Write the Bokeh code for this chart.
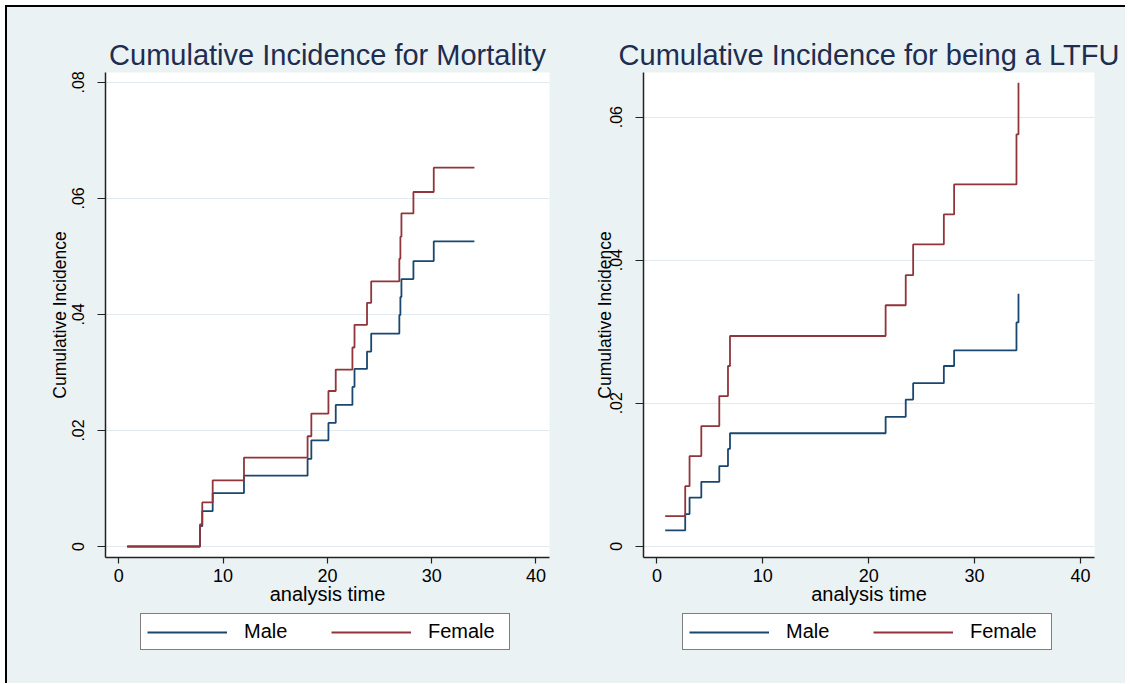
from bokeh.plotting import figure
from bokeh.models import FixedTicker, Legend, LegendItem, Range1d
from bokeh.layouts import row, column
from bokeh.embed import file_html
from bokeh.resources import INLINE

# ---------------- data ----------------
mort_time = [0.8, 7.78, 8.0, 9.0, 12.0, 18.1, 18.46, 20.1, 20.8, 22.4, 22.6,
             23.8, 24.2, 26.9, 27.0, 27.1, 28.25, 30.2, 34.1]
mort_male = [0.0, 0.0035, 0.0061, 0.0092, 0.0122, 0.0151, 0.0183, 0.0213, 0.0244,
             0.0275, 0.0306, 0.0336, 0.0367, 0.0399, 0.0430, 0.0461, 0.0492,
             0.0526, 0.0526]
mort_female = [0.0, 0.0038, 0.0076, 0.0114, 0.0153, 0.0190, 0.0229, 0.0268, 0.0305,
               0.0343, 0.0382, 0.0420, 0.0457, 0.0496, 0.0534, 0.0574, 0.0611,
               0.0653, 0.0653]

ltfu_time = [0.78, 2.67, 3.08, 4.19, 5.89, 6.71, 6.9, 21.6, 23.5, 24.2, 27.1,
             28.07, 33.96, 34.15]
ltfu_male = [0.0022, 0.0045, 0.0068, 0.0090, 0.0112, 0.0136, 0.0158, 0.0181,
             0.0205, 0.0228, 0.0252, 0.0274, 0.0313, 0.0353]
ltfu_female = [0.0042, 0.0084, 0.0126, 0.0168, 0.0210, 0.0252, 0.0294, 0.0337,
               0.0379, 0.0422, 0.0464, 0.0506, 0.0576, 0.0648]

x_ticks = [0, 10, 20, 30, 40]
mort_yticks = [0, 0.02, 0.04, 0.06, 0.08]
mort_ylabels = ["0", ".02", ".04", ".06", ".08"]
ltfu_yticks = [0, 0.02, 0.04, 0.06]
ltfu_ylabels = ["0", ".02", ".04", ".06"]

series_names = ["Male", "Female"]
series_colors = ["#1A476F", "#90353B"]

FONT = "Liberation Sans"
BG = "#EAF2F3"
TOP = 65
FRAME_H = 485
AXIS_H = 50
LEG_H = 76


def panel(title, t, male, female, xr, yr, yticks, ylabels, frame_w,
          mb_left, mb_right, label_standoff):
    p = figure(frame_width=frame_w, frame_height=FRAME_H,
               x_range=Range1d(*xr), y_range=Range1d(*yr),
               output_backend="svg", toolbar_location=None,
               min_border_left=mb_left, min_border_right=mb_right,
               min_border_top=TOP, min_border_bottom=AXIS_H)
    p.background_fill_color = "white"
    p.border_fill_color = BG
    p.outline_line_color = None

    p.title.text = title
    p.title.align = "center"
    p.title.text_font = FONT
    p.title.text_font_size = "29px"
    p.title.text_font_style = "normal"
    p.title.text_color = "#1E2D50"
    p.title.standoff = 3

    for ax in (p.xaxis, p.yaxis):
        ax.axis_line_color = "#222222"
        ax.axis_line_width = 1.5
        ax.major_tick_line_color = "#222222"
        ax.major_tick_line_width = 1.2
        ax.major_tick_in = 0
        ax.minor_tick_line_color = None
        ax.major_label_text_font = FONT
        ax.major_label_text_color = "black"
        ax.axis_label_text_font = FONT
        ax.axis_label_text_font_style = "normal"
        ax.axis_label_text_color = "black"

    p.xaxis.ticker = FixedTicker(ticks=x_ticks)
    p.xaxis.major_tick_out = 6
    p.xaxis.major_label_standoff = 5
    p.xaxis.major_label_text_font_size = "18px"
    p.xaxis.axis_label = "analysis time"
    p.xaxis.axis_label_text_font_size = "20px"
    p.xaxis.axis_label_standoff = -2

    p.yaxis.ticker = FixedTicker(ticks=yticks)
    p.yaxis.major_label_overrides = {v: s for v, s in zip(yticks, ylabels)}
    p.yaxis.major_label_orientation = "vertical"
    p.yaxis.major_label_text_font_size = "16px"
    p.yaxis.major_tick_out = 8
    p.yaxis.major_label_standoff = 13
    p.yaxis.axis_label = "Cumulative Incidence"
    p.yaxis.axis_label_text_font_size = "17.5px"
    p.yaxis.axis_label_standoff = label_standoff

    p.xgrid.grid_line_color = None
    p.ygrid.ticker = FixedTicker(ticks=yticks)
    p.ygrid.grid_line_color = "#E1EAEF"
    p.ygrid.grid_line_width = 1.2

    p.step(t, male, mode="after", line_color=series_colors[0], line_width=1.8)
    p.step(t, female, mode="after", line_color=series_colors[1], line_width=1.8)
    return p


def legend_panel(width, x_off, t, male, female):
    # the series are drawn off-range here; only their legend keys are seen
    lp = figure(width=width, height=LEG_H, x_range=Range1d(100, 101),
                y_range=Range1d(100, 101),
                x_axis_type=None, y_axis_type=None,
                output_backend="svg", toolbar_location=None, min_border=0)
    lp.background_fill_color = BG
    lp.border_fill_color = BG
    lp.outline_line_color = None
    items = []
    for name, col, vals in zip(series_names, series_colors, (male, female)):
        r = lp.step(t, vals, mode="after", line_color=col, line_width=1.8)
        items.append(LegendItem(label=name, renderers=[r]))
    legend = Legend(items=items, orientation="horizontal", location=(x_off, 33))
    legend.glyph_width = 80
    legend.glyph_height = 12
    legend.label_standoff = 17
    legend.label_width = 75
    legend.spacing = 12
    legend.padding = 6
    legend.margin = 0
    legend.label_text_font = FONT
    legend.label_text_font_size = "20px"
    legend.label_text_color = "black"
    legend.border_line_color = "black"
    legend.border_line_width = 1.2
    legend.background_fill_color = "white"
    legend.background_fill_alpha = 1.0
    lp.add_layout(legend, "center")
    return lp


p1 = panel("Cumulative Incidence for Mortality", mort_time, mort_male, mort_female,
           (-1.28, 41.3), (-0.0019, 0.0817), mort_yticks, mort_ylabels,
           444, 98, 29, 0)
p2 = panel("Cumulative Incidence for being a LTFU", ltfu_time, ltfu_male, ltfu_female,
           (-1.27, 41.33), (-0.00158, 0.06625), ltfu_yticks, ltfu_ylabels,
           451, 65, 31, -7)

l1 = legend_panel(98 + 444 + 29, 133, mort_time, mort_male, mort_female)
l2 = legend_panel(65 + 451 + 31, 104, ltfu_time, ltfu_male, ltfu_female)

layout = column(row(p1, p2), row(l1, l2),
                styles={"border-left": "2px solid black",
                        "border-top": "2px solid black",
                        "margin-left": "5px",
                        "margin-top": "5px",
                        "background-color": BG})

open("out.html", "w").write(file_html(layout, INLINE))
